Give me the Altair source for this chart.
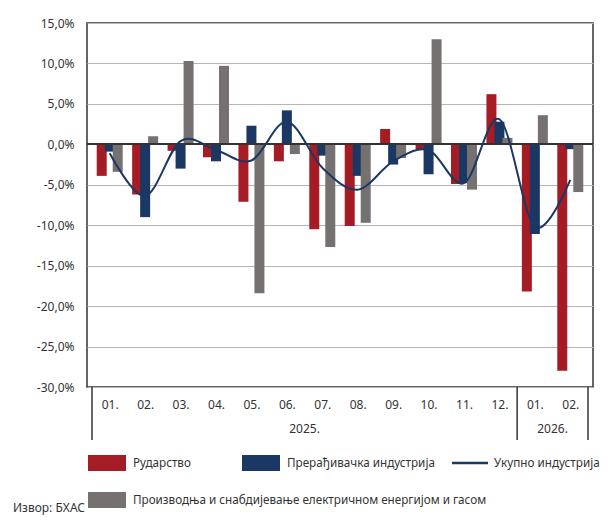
import altair as alt
import pandas as pd

# ---- data ----
months = ["01.", "02.", "03.", "04.", "05.", "06.", "07.", "08.", "09.", "10.", "11.", "12.", "01.", "02."]
years = ["2025."] * 12 + ["2026."] * 2
rudarstvo = [-3.9, -6.2, -0.8, -1.6, -7.1, -2.1, -10.5, -10.1, 1.9, -0.6, -4.9, 6.2, -18.2, -28.0]
preradjivacka = [-0.9, -9.0, -3.0, -2.1, 2.3, 4.2, -1.4, -3.9, -2.5, -3.7, -4.8, 2.8, -11.1, -0.6]
energija = [-3.4, 1.0, 10.3, 9.7, -18.4, -1.2, -12.7, -9.7, -1.7, 13.0, -5.6, 0.8, 3.6, -5.9]
ukupno = [-1.1, -6.4, 0.4, -0.7, -2.0, 2.8, -2.9, -5.6, -2.1, -0.7, -4.8, 3.1, -10.2, -4.4]

series_names = [
    "Рударство",
    "Прерађивачка индустрија",
    "Укупно индустрија",
    "Производња и снабдијевање електричном енергијом и гасом",
]
source_note = "Извор: БХАС"

RED = "#A51C24"
BLUE = "#1B3864"
GRAY = "#767171"
TXT = "#333333"
FONT = "Noto Sans"
LFS = 11.7

W, H = 506, 364

idx = list(range(len(months)))
df = pd.DataFrame({
    "i": idx, "month": months, "year": years,
    "r": rudarstvo, "p": preradjivacka, "e": energija, "u": ukupno,
})

# group boundaries (start of each year and the right end)
bounds = [i - 0.5 for i in idx if i == 0 or years[i] != years[i - 1]] + [len(idx) - 0.5]
bdf = pd.DataFrame({"b": bounds})

label_expr = "[" + ",".join("'" + m + "'" for m in months) + "][datum.value]"

xscale = alt.Scale(domain=[-0.5, len(idx) - 0.5], nice=False, zero=False)
yscale = alt.Scale(domain=[-30, 15], nice=False, zero=False)

xaxis = alt.Axis(values=idx, labelExpr=label_expr, title=None, grid=False, ticks=False,
                 domain=False, labelFlush=False, labelOverlap=False, labelPadding=12,
                 labelFontSize=12, labelColor=TXT, labelFont=FONT, labelSeparation=0)
yaxis = alt.Axis(values=list(range(-30, 16, 5)),
                 labelExpr="(datum.value < 0 ? '-' : '') + replace(format(abs(datum.value), '.1f'), '.', ',') + '%'",
                 title=None, grid=True, gridColor="#b5b5b5", gridWidth=1.2, ticks=False,
                 domain=False, labelPadding=13, labelFontSize=12, labelColor=TXT, labelFont=FONT)

base = alt.Chart(df)

bars_r = base.mark_bar(width=10, xOffset=-8, color=RED).encode(
    x=alt.X("i:Q", scale=xscale, axis=xaxis),
    y=alt.Y("r:Q", scale=yscale, axis=yaxis),
    y2=alt.datum(0),
)
bars_p = base.mark_bar(width=10, xOffset=0, color=BLUE).encode(
    x=alt.X("i:Q", scale=xscale, axis=xaxis), y=alt.Y("p:Q", scale=yscale, axis=yaxis), y2=alt.datum(0))
bars_e = base.mark_bar(width=10, xOffset=8, color=GRAY).encode(
    x=alt.X("i:Q", scale=xscale, axis=xaxis), y=alt.Y("e:Q", scale=yscale, axis=yaxis), y2=alt.datum(0))

zero = alt.Chart(df).mark_rule(color=TXT, strokeWidth=1.5).encode(y=alt.datum(0))

line = base.mark_line(color=BLUE, strokeWidth=2, interpolate="cardinal").encode(
    x=alt.X("i:Q", scale=xscale, axis=xaxis), y=alt.Y("u:Q", scale=yscale, axis=yaxis))

seps = alt.Chart(bdf).mark_rule(color=TXT, strokeWidth=1.5).encode(
    x=alt.X("b:Q", scale=xscale, axis=xaxis), y=alt.value(H), y2=alt.value(H + 53))

year_lbl = base.transform_aggregate(c="mean(i)", groupby=["year"]).mark_text(
    font=FONT, fontSize=12, color=TXT, baseline="middle").encode(
    x=alt.X("c:Q", scale=xscale, axis=xaxis), y=alt.value(H + 42), text="year:N")

def swatch(name, color, x, y):
    d = pd.DataFrame({"s": [name]})
    rect = alt.Chart(d).mark_rect(color=color).encode(
        x=alt.value(x), x2=alt.value(x + 38), y=alt.value(y - 8), y2=alt.value(y + 8))
    txt = alt.Chart(d).mark_text(align="left", baseline="middle", font=FONT, fontSize=LFS,
                                 color=TXT).encode(x=alt.value(x + 45), y=alt.value(y), text="s:N")
    return rect + txt

leg1 = swatch(series_names[0], RED, 1, 440)
leg2 = swatch(series_names[1], BLUE, 155, 440)
ld = pd.DataFrame({"s": [series_names[2]]})
leg3 = alt.Chart(ld).mark_rule(color=BLUE, strokeWidth=2.5).encode(
    x=alt.value(365), x2=alt.value(401), y=alt.value(440)) + alt.Chart(ld).mark_text(
    align="left", baseline="middle", font=FONT, fontSize=LFS, color=TXT).encode(
    x=alt.value(407), y=alt.value(440), text="s:N")
leg4 = swatch(series_names[3], GRAY, 1, 477)

src = alt.Chart(pd.DataFrame({"s": [source_note]})).mark_text(
    align="left", baseline="middle", font=FONT, fontSize=12, color=TXT).encode(
    x=alt.value(-74), y=alt.value(485), text="s:N")

chart = alt.layer(
    bars_r, bars_p, bars_e, zero, line, seps, year_lbl, leg1, leg2, leg3, leg4, src
).properties(
    width=W, height=H,
    autosize=alt.AutoSizeParams(type="none"),
    padding={"left": 79, "top": 15, "right": 13, "bottom": 131},
    background="white",
).configure_view(stroke=TXT, strokeWidth=1.5).configure_axisX(labelOverlap=False, labelSeparation=0)

chart.save("out.html", embed_options={"renderer": "svg", "actions": False})
